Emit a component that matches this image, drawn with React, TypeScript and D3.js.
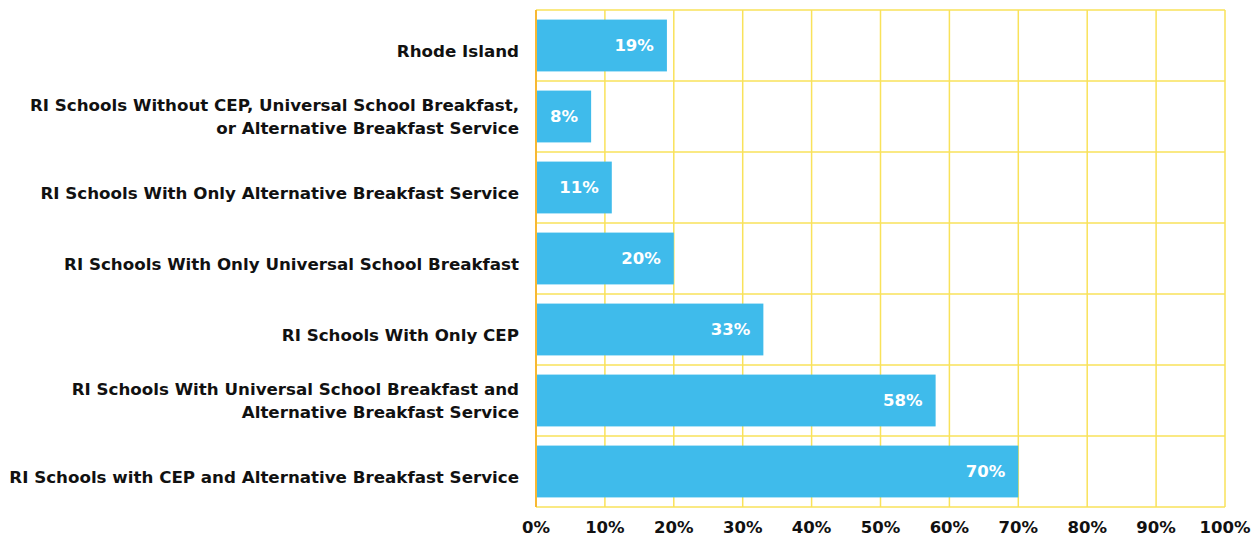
import React from "react";
import * as d3 from "d3";

const categories: string[][] = [
  ["Rhode Island"],
  ["RI Schools Without CEP, Universal School Breakfast,", "or Alternative Breakfast Service"],
  ["RI Schools With Only Alternative Breakfast Service"],
  ["RI Schools With Only Universal School Breakfast"],
  ["RI Schools With Only CEP"],
  ["RI Schools With Universal School Breakfast and", "Alternative Breakfast Service"],
  ["RI Schools with CEP and Alternative Breakfast Service"],
];
const values: number[] = [19, 8, 11, 20, 33, 58, 70];
const ticks: number[] = [0, 10, 20, 30, 40, 50, 60, 70, 80, 90, 100];

const W = 1257;
const H = 540;
const margin = { left: 536, right: 32, top: 10, bottom: 33 };
const FONT = "'DejaVu Sans', sans-serif";

export default function App() {
  const x = d3.scaleLinear().domain([0, 100]).range([margin.left, W - margin.right]);
  const ids = categories.map((_, i) => i);
  const y = d3
    .scaleBand<number>()
    .domain(ids)
    .range([margin.top, H - margin.bottom])
    .paddingInner(0.27)
    .paddingOuter(0.135);
  const rowH = (H - margin.bottom - margin.top) / categories.length;
  const grid = "#f9e25a";
  return (
    <svg width={W} height={H} style={{ position: "absolute", left: 0, top: 0 }} fontFamily={FONT}>
      <rect x={0} y={0} width={W} height={H} fill="#fff" />
      {ticks.map((t) => (
        <line key={"v" + t} x1={x(t)} x2={x(t)} y1={margin.top} y2={H - margin.bottom} stroke={grid} strokeWidth={1.5} />
      ))}
      {d3.range(categories.length + 1).map((i) => (
        <line key={"h" + i} x1={x(0)} x2={x(100)} y1={margin.top + i * rowH} y2={margin.top + i * rowH} stroke={grid} strokeWidth={1.5} />
      ))}
      {values.map((v, i) => (
        <rect key={"b" + i} x={x(0)} y={y(i)} width={x(v) - x(0)} height={y.bandwidth()} fill="#3fbbeb" />
      ))}
      {values.map((v, i) => (
        <text key={"l" + i} x={x(v) - 13} y={y(i)! + y.bandwidth() / 2} dy="0.36em" textAnchor="end" fill="#fff" fontWeight={700} fontSize={16.5}>
          {v}%
        </text>
      ))}
      <line x1={x(0)} x2={x(0)} y1={margin.top} y2={H - margin.bottom} stroke="#f7b833" strokeWidth={2} />
      {categories.map((lines, i) => {
        const cy = y(i)! + y.bandwidth() / 2 + (lines.length === 1 ? 5 : 0);
        const lh = 23;
        return (
          <text key={"c" + i} x={519} textAnchor="end" fontWeight={700} fontSize={16.7} fill="#111">
            {lines.map((ln, j) => (
              <tspan key={j} x={519} y={cy + (j - (lines.length - 1) / 2) * lh} dy="0.36em">
                {ln}
              </tspan>
            ))}
          </text>
        );
      })}
      {ticks.map((t) => (
        <text key={"t" + t} x={x(t)} y={527} dy="0.36em" textAnchor="middle" fontWeight={700} fontSize={16.5} fill="#111">
          {t}%
        </text>
      ))}
    </svg>
  );
}
